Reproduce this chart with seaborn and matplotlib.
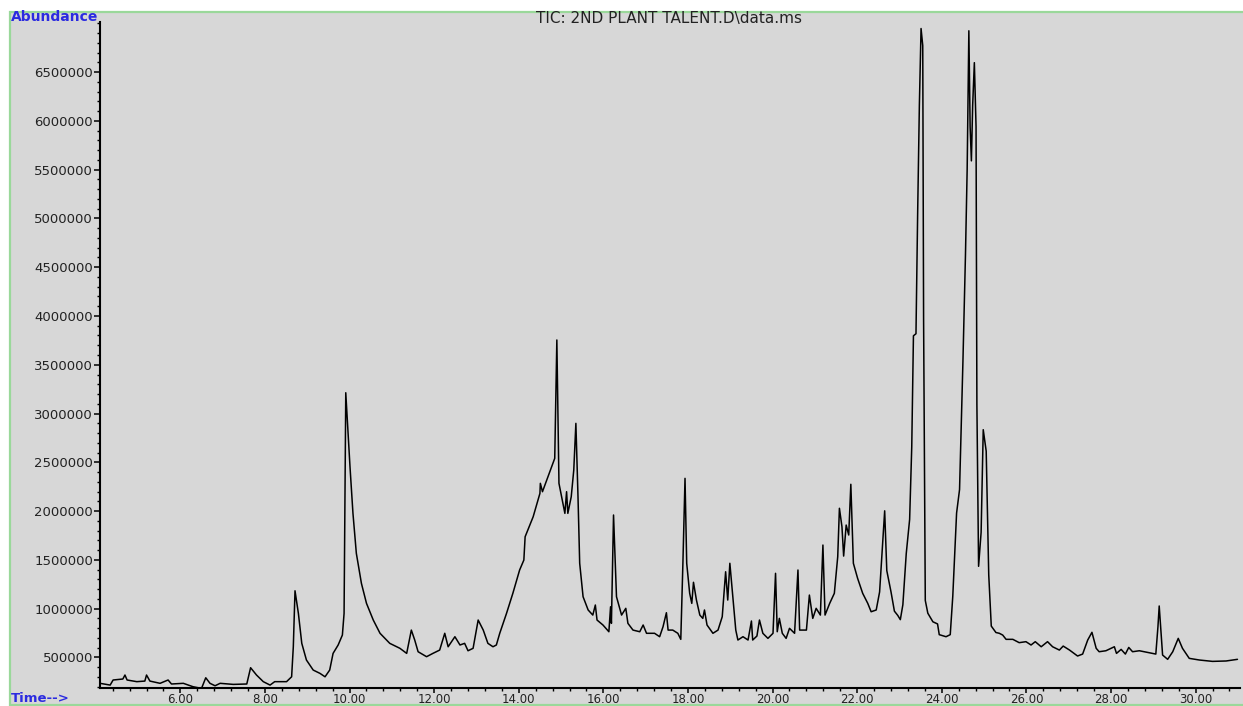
import matplotlib
matplotlib.use("Agg")
import matplotlib.pyplot as plt
import seaborn as sns
from matplotlib.ticker import FixedLocator, MultipleLocator, FixedFormatter
from matplotlib.patches import Rectangle

# ---- data (time in min, abundance) ----
time_min = [
    4.10, 4.34, 4.41, 4.64, 4.69, 4.74, 4.97, 5.16, 5.20, 5.28, 5.52, 5.71, 5.79, 6.07, 6.30,
    6.50, 6.60, 6.70, 6.82, 6.94, 7.25, 7.57, 7.66, 7.80, 7.96, 8.12, 8.23, 8.51, 8.63, 8.67,
    8.71, 8.79, 8.87, 8.98, 9.14, 9.30, 9.42, 9.53, 9.61, 9.73, 9.83, 9.87, 9.91, 10.01, 10.08,
    10.16, 10.28, 10.40, 10.56, 10.72, 10.95, 11.19,
    11.35, 11.46, 11.54, 11.62, 11.82, 11.97, 12.13, 12.25, 12.33, 12.49, 12.61, 12.72, 12.80,
    12.92, 13.04, 13.16, 13.27, 13.39, 13.47, 13.55, 13.71, 13.86, 14.02, 14.12, 14.15, 14.34,
    14.50, 14.51, 14.56, 14.69, 14.85, 14.90, 14.95, 15.09, 15.13, 15.16, 15.24, 15.30, 15.35,
    15.40, 15.44, 15.52, 15.64, 15.75, 15.81, 15.85, 15.99, 16.13, 16.17, 16.19, 16.24, 16.31,
    16.43, 16.53, 16.58, 16.70, 16.86, 16.94, 17.02, 17.21,
    17.33, 17.41, 17.49, 17.53, 17.64, 17.76, 17.83, 17.88, 17.93, 17.97, 18.04, 18.09, 18.13,
    18.20, 18.28, 18.35, 18.39, 18.45, 18.59, 18.71, 18.81, 18.89, 18.94, 18.99, 19.06, 19.13,
    19.18, 19.30, 19.42, 19.50, 19.53, 19.63, 19.69, 19.77, 19.89, 20.01, 20.07, 20.11, 20.16,
    20.23, 20.32, 20.40, 20.52, 20.60, 20.64, 20.80, 20.87, 20.95, 21.03, 21.13, 21.19, 21.24,
    21.35, 21.46, 21.54, 21.58, 21.64, 21.68, 21.74, 21.80, 21.85, 21.91, 22.01, 22.13, 22.25,
    22.33, 22.45,
    22.53, 22.65, 22.70, 22.80, 22.88, 22.96, 23.02, 23.08, 23.16, 23.24, 23.29, 23.33, 23.39,
    23.43, 23.47, 23.51, 23.55, 23.57, 23.61, 23.67, 23.79, 23.90, 23.94, 24.10, 24.20, 24.26,
    24.35, 24.42, 24.50, 24.56, 24.60, 24.64, 24.67, 24.70, 24.73, 24.77, 24.81, 24.83, 24.87,
    24.93, 24.98, 25.05, 25.11, 25.17, 25.28, 25.36,
    25.44, 25.52, 25.68, 25.83, 25.99, 26.11, 26.21, 26.35, 26.50, 26.62, 26.78, 26.87, 27.02,
    27.21, 27.33, 27.45, 27.55, 27.65, 27.72, 27.88, 28.08, 28.13, 28.24, 28.34, 28.42, 28.51,
    28.67, 28.87, 29.06, 29.11, 29.14, 29.18, 29.22, 29.34, 29.46, 29.59, 29.69, 29.85, 30.09,
    30.40, 30.72, 30.87, 30.99,
]
abundance = [
    233000, 215000, 267000, 277000, 318000, 267000, 250000, 256000, 318000, 256000, 233000,
    267000, 226000, 233000, 198000, 181000, 290000, 233000, 208000, 233000, 222000, 226000,
    393000, 318000, 250000, 215000, 250000, 250000, 300000, 608000, 1182000, 950000, 643000,
    472000, 369000, 335000, 300000, 369000, 540000, 626000, 728000, 950000, 3213000, 2454000,
    1976000, 1566000, 1258000, 1053000, 882000, 746000, 643000, 592000,
    540000, 779000, 677000, 557000, 506000, 540000, 574000, 746000, 608000, 711000, 626000,
    643000, 567000, 592000, 882000, 779000, 643000, 608000, 626000, 746000, 950000, 1156000,
    1395000, 1497000, 1736000, 1941000, 2181000, 2284000, 2198000, 2352000, 2540000, 3754000,
    2284000, 1976000, 2198000, 1976000, 2146000, 2420000, 2899000, 2146000, 1464000, 1121000,
    985000, 933000, 1036000, 882000, 831000, 762000, 1018000, 848000, 1959000, 1121000, 933000,
    1002000, 848000, 779000, 762000, 831000, 746000, 746000,
    711000, 813000, 957000, 779000, 779000, 746000, 684000, 1464000, 2335000, 1464000, 1156000,
    1053000, 1269000, 1087000, 933000, 899000, 985000, 831000, 746000, 779000, 916000, 1377000,
    1087000, 1464000, 1121000, 779000, 677000, 711000, 677000, 872000, 677000, 718000, 882000,
    746000, 694000, 746000, 1361000, 762000, 899000, 746000, 694000, 797000, 746000, 1395000,
    779000, 779000, 1138000, 899000, 1002000, 933000, 1651000, 933000, 1053000, 1156000,
    1531000, 2028000, 1839000, 1538000, 1856000, 1754000, 2274000, 1464000, 1310000, 1156000,
    1053000, 967000, 985000,
    1170000, 2002000, 1389000, 1170000, 973000, 929000, 886000, 1039000, 1564000, 1914000,
    2658000, 3797000, 3818000, 5066000, 6160000, 6948000, 6773000, 3971000, 1083000, 952000,
    864000, 842000, 732000, 711000, 732000, 1126000, 1979000, 2220000, 3534000, 4628000,
    5503000, 6925000, 5941000, 5591000, 6160000, 6598000, 5941000, 3096000, 1433000, 1782000,
    2834000, 2614000, 1346000, 820000, 754000, 746000,
    728000, 684000, 684000, 650000, 660000, 626000, 660000, 608000, 660000, 608000, 574000,
    615000, 574000, 513000, 533000, 677000, 756000, 592000, 557000, 567000, 608000, 540000,
    581000, 533000, 601000, 557000, 567000, 550000, 533000, 813000, 1026000, 779000, 523000,
    479000, 557000, 694000, 592000, 489000, 472000, 458000, 462000, 472000, 479000,
]
x_ticks = [6, 8, 10, 12, 14, 16, 18, 20, 22, 24, 26, 28, 30]
x_tick_labels = ["6.00", "8.00", "10.00", "12.00", "14.00", "16.00", "18.00",
                 "20.00", "22.00", "24.00", "26.00", "28.00", "30.00"]
y_ticks = [500000, 1000000, 1500000, 2000000, 2500000, 3000000, 3500000,
           4000000, 4500000, 5000000, 5500000, 6000000, 6500000]
y_tick_labels = [str(v) for v in y_ticks]
title_text = "TIC: 2ND PLANT TALENT.D\\data.ms"

# ---- styling ----
sns.set_theme(style="ticks")
plt.rcParams["font.family"] = ["DejaVu Sans"]

W, H = 1243, 706
fig = plt.figure(figsize=(W / 100, H / 100), dpi=100)
fig.patch.set_facecolor("white")

# grey panel with green frame
fig.add_artist(Rectangle((10 / W, 1 / H), 1.0, (H - 13) / H, transform=fig.transFigure,
                         facecolor="#d7d7d7", edgecolor="#9ad89a", lw=1.6, zorder=0))

left, right, top, bottom = 100, 1240, 22, 688
ax = fig.add_axes([left / W, (H - bottom) / H, (right - left) / W, (bottom - top) / H])
ax.set_facecolor("none")

sns.lineplot(x=time_min, y=abundance, ax=ax, color="black", linewidth=1.1,
             sort=False, estimator=None)

ax.set_xlim(4.10, 31.05)
ax.set_ylim(185000, 7015000)
ax.set_xlabel("")
ax.set_ylabel("")

ax.xaxis.set_major_locator(FixedLocator(x_ticks))
ax.xaxis.set_major_formatter(FixedFormatter(x_tick_labels))
ax.xaxis.set_minor_locator(MultipleLocator(0.4))
ax.yaxis.set_major_locator(FixedLocator(y_ticks))
ax.yaxis.set_major_formatter(FixedFormatter(y_tick_labels))
ax.yaxis.set_minor_locator(MultipleLocator(100000))

for s in ["top", "right"]:
    ax.spines[s].set_visible(False)
for s in ["left", "bottom"]:
    ax.spines[s].set_color("black")
    ax.spines[s].set_linewidth(1.5)

ax.tick_params(axis="y", which="major", direction="out", length=4, width=1.1,
               color="black", labelsize=9.5, labelcolor="#222222", pad=1.0)
ax.tick_params(axis="x", which="major", direction="out", length=3.5, width=1.1,
               color="black", labelsize=8.5, labelcolor="#222222", pad=0.3)
ax.tick_params(axis="both", which="minor", direction="out", length=2.5, width=1.0,
               color="black")

fig.text(11 / W, 1 - 17 / H, "Abundance", color="#2b2be0", fontsize=10,
         fontweight="bold", ha="left", va="center")
fig.text(11 / W, 1 - 699 / H, "Time-->", color="#2b2be0", fontsize=9.5,
         fontweight="bold", ha="left", va="center")
fig.text(669 / W, 1 - 18 / H, title_text, color="#222222", fontsize=11,
         ha="center", va="center")

fig.savefig("out.png", dpi=100, facecolor=fig.get_facecolor())
